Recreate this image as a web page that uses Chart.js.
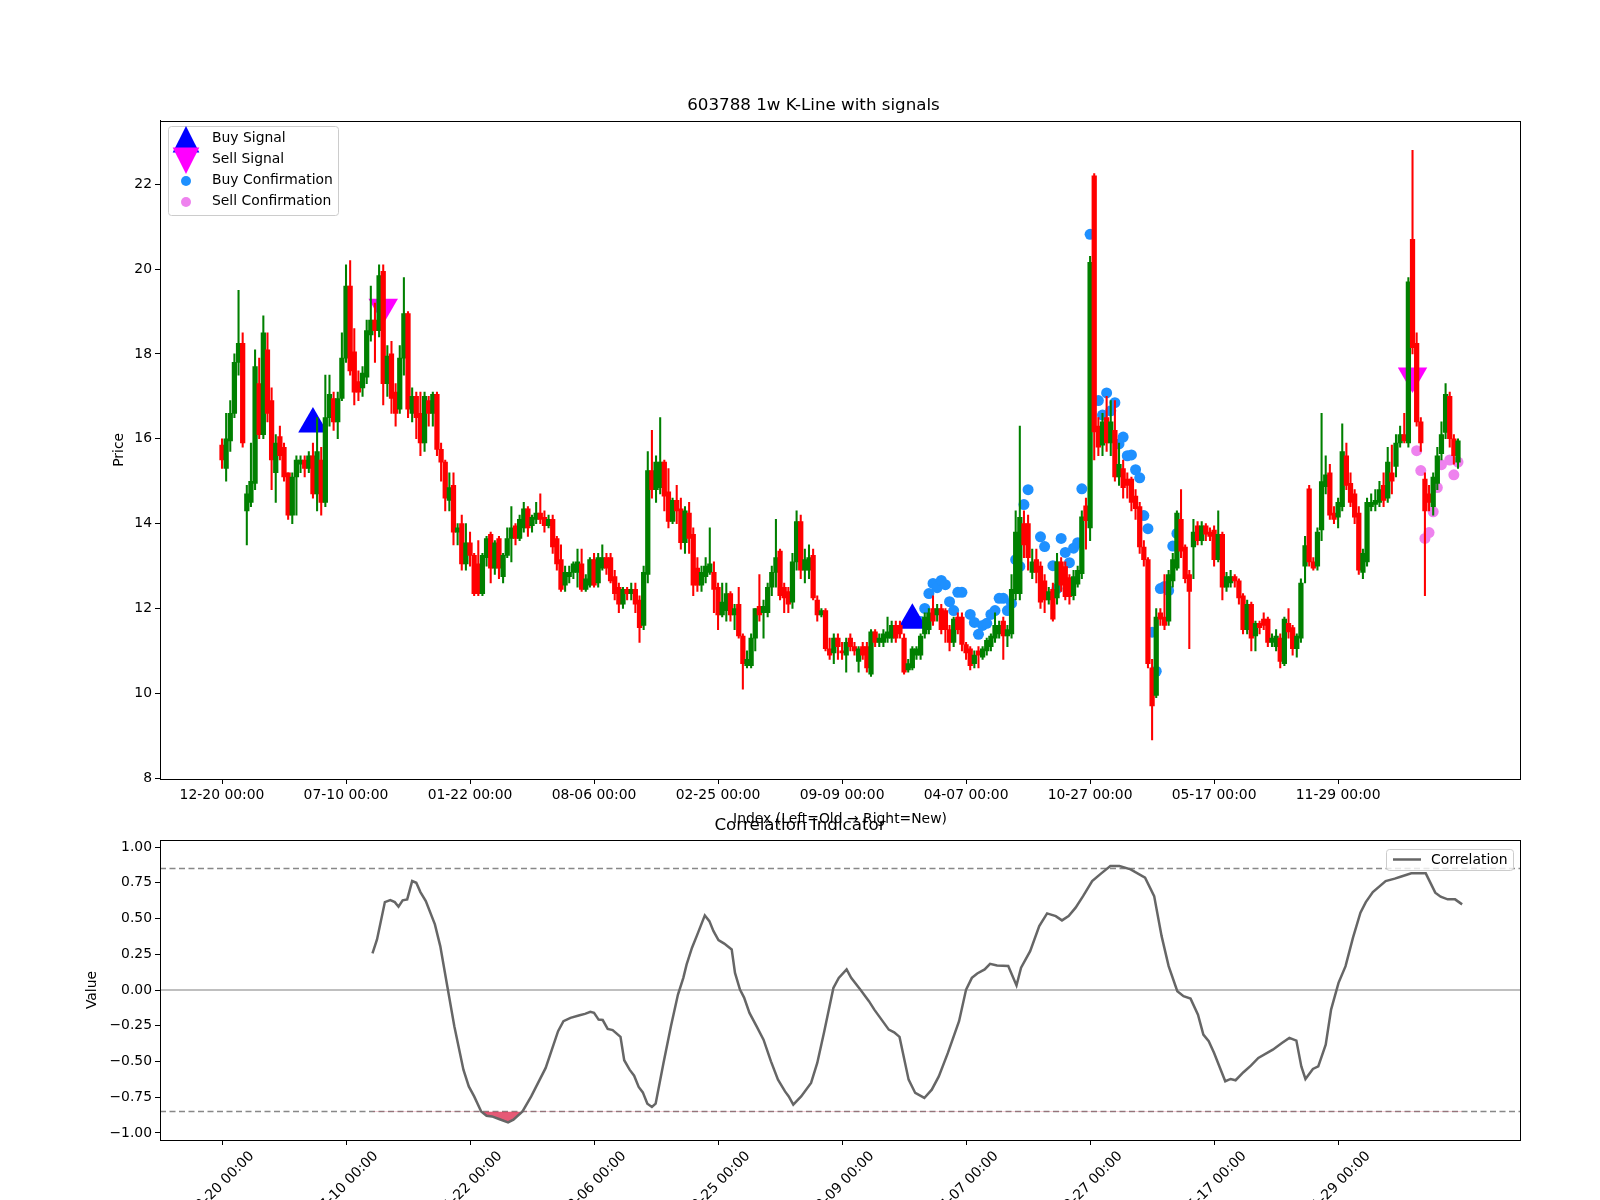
<!DOCTYPE html>
<html><head><meta charset="utf-8">
<script src="https://cdn.jsdelivr.net/npm/chart.js@4.4.1/dist/chart.umd.min.js"></script>
<style>
html,body{margin:0;padding:0;background:#fff;width:1600px;height:1200px;overflow:hidden}
#c1{position:absolute;left:0;top:0}
#c2{position:absolute;left:0;top:800px}
</style></head><body>
<canvas id="c1" width="1600" height="830"></canvas>
<canvas id="c2" width="1600" height="400"></canvas>
<script>
// ---------- DATA ----------
const tickIdx = [0,30,60,90,120,150,180,210,240,270];
const dateLabels = ["12-20 00:00","07-10 00:00","01-22 00:00","08-06 00:00","02-25 00:00","09-09 00:00","04-07 00:00","10-27 00:00","05-17 00:00","11-29 00:00"];
const priceTicks = [8,10,12,14,16,18,20,22];
const corrTicks = [-1,-0.75,-0.5,-0.25,0,0.25,0.5,0.75,1];

const opens = [
15.85,15.3,15.95,16.6,17.8,18.25,14.3,14.5,14.95,17.3,16.1,18.1,16.9,15.2,16.05,15.8,15.2,14.2,15.1,15.4,15.5,15.3,15.6,14.7,15.5,14.5,16.5,16.95,16.4,16.95,17.9,19.6,18.05,17.35,17.2,17.45,18.45,18.8,18.55,19.95,17.3,18.0,17.1,16.7,17.9,18.95,16.6,17.0,
16.6,15.9,16.9,16.6,17.05,15.75,15.45,14.55,14.9,13.8,14.0,13.05,13.55,13.25,13.05,12.35,13.2,13.75,12.95,13.65,12.75,13.25,13.65,13.95,13.65,13.9,14.35,13.95,14.1,14.25,14.15,13.95,14.1,13.65,13.15,12.55,12.75,12.85,12.85,13.05,12.45,12.55,13.15,12.6,12.95,13.2,13.2,12.75,12.5,12.1,12.45,12.35,
12.45,12.2,11.6,12.8,15.25,14.8,14.85,15.45,14.75,14.05,14.55,14.35,13.55,14.25,13.75,12.95,12.55,12.75,12.85,12.85,12.5,11.85,11.95,12.35,11.85,12.1,11.35,10.65,10.65,11.3,12.05,11.9,11.9,12.5,12.85,13.35,12.5,12.4,12.15,13.1,14.05,12.9,12.9,13.25,12.2,11.85,11.95,11.05,10.95,11.3,11.0,10.9,
11.3,11.1,10.75,11.1,11.1,10.45,11.45,11.2,11.2,11.3,11.3,11.6,11.6,11.3,10.55,10.6,10.9,10.9,11.4,11.5,12.0,11.85,12.0,11.95,11.5,11.2,11.8,11.8,11.15,11.05,10.7,11.0,10.85,11.0,11.1,11.3,11.4,11.7,11.35,11.4,12.35,12.35,14.0,14.0,12.85,13.15,13.0,12.65,12.2,12.45,12.25,13.1,
12.99,12.73,12.3,12.57,12.82,14.42,13.9,22.2,16.3,15.85,16.5,15.9,16.2,15.1,15.3,15.05,15.05,14.65,14.4,13.45,13.15,10.6,9.95,11.9,11.8,11.7,12.65,12.95,14.1,13.45,12.8,13.45,13.95,13.6,13.95,13.8,13.85,13.15,13.75,12.5,12.6,12.75,12.65,12.3,11.5,12.1,11.35,11.65,11.75,11.75,11.2,
11.1,11.3,10.7,11.65,11.55,11.05,11.3,13.0,
14.82,13.1,13.0,13.85,14.87,15.2,14.25,14.15,14.4,15.6,14.95,14.7,14.25,12.85,13.1,14.4,14.45,14.5,14.9,14.6,15.2,15.35,15.9,16.1,15.9,20.7,18.25,16.4,15.05,14.7,14.4,14.95,15.65,16.15,
17.0,16.0,15.45];
const closes = [
15.5,16.0,16.6,17.8,18.25,15.9,14.7,15.0,17.7,16.1,18.5,16.6,15.5,15.9,15.6,15.1,14.2,15.1,15.5,15.5,15.3,15.6,14.7,15.7,14.5,16.5,17.05,16.4,16.95,17.9,19.6,17.6,17.1,17.1,17.55,18.55,18.8,18.55,19.85,17.3,17.95,16.95,16.6,17.9,18.95,16.7,17.0,16.5,
15.9,17.0,16.6,17.05,15.75,15.45,14.6,14.85,13.8,13.9,13.05,13.55,13.25,12.35,12.35,13.25,13.65,12.95,13.55,12.95,13.25,13.65,13.9,13.65,14.1,14.35,13.9,14.15,14.25,14.1,13.95,14.1,13.45,13.05,12.45,12.85,12.85,13.05,13.1,12.45,12.7,13.15,12.55,13.2,13.2,12.95,12.65,12.35,12.1,12.45,12.35,12.45,
12.1,11.55,12.85,15.25,14.8,15.45,15.45,14.65,14.05,14.55,14.3,13.55,14.3,13.65,12.55,12.55,12.85,13.0,13.05,12.45,11.85,12.15,12.35,11.85,12.0,11.35,10.7,10.8,11.3,12.0,11.85,12.05,12.5,12.85,13.2,12.3,12.25,12.1,13.1,14.05,12.9,13.15,13.2,12.25,11.85,11.95,11.05,10.9,11.3,11.1,10.95,11.2,
11.1,11.0,11.05,10.9,10.6,11.45,11.2,11.3,11.4,11.45,11.6,11.3,11.4,10.5,10.7,11.05,11.05,11.35,11.8,11.9,11.7,12.0,11.5,11.5,11.2,11.75,11.5,11.15,10.95,10.65,10.9,10.9,11.05,11.25,11.35,11.6,11.6,11.35,11.5,12.45,13.8,14.15,13.5,13.2,13.1,12.85,12.15,12.2,12.4,11.75,13.1,12.55,
12.28,12.28,12.75,12.9,14.16,14.07,20.16,16.16,15.8,16.4,15.9,16.4,15.1,15.4,14.85,14.9,14.5,14.35,13.45,13.15,10.7,9.7,11.8,11.75,11.6,12.8,13.15,14.25,13.35,12.7,12.4,13.8,13.6,13.95,13.75,13.7,13.15,13.75,12.5,12.75,12.75,12.65,12.25,11.5,12.1,11.3,11.65,11.55,11.6,11.2,11.3,
11.35,10.75,11.75,11.45,11.05,11.35,12.6,13.48,
13.1,12.95,13.8,14.99,15.15,14.2,14.1,14.5,15.7,14.9,14.5,14.15,12.9,13.3,14.5,14.5,14.55,14.8,14.55,15.45,15.0,15.9,16.1,15.95,19.7,18.15,16.4,15.9,14.3,14.5,15.1,15.6,16.1,17.05,
16.0,15.6,15.95];
const highs = [
16.0,16.6,16.9,18.0,19.5,18.5,14.9,15.9,18.1,17.9,18.9,18.5,17.2,16.1,16.3,15.9,15.2,15.2,15.6,15.6,15.6,15.7,15.9,16.5,15.8,17.5,17.5,17.1,17.1,18.5,20.1,20.2,18.6,17.6,17.7,18.8,19.6,19.2,20.1,20.1,18.2,18.3,17.3,18.2,19.8,19.0,17.2,17.1,
17.1,17.1,17.0,17.1,17.1,15.9,15.5,15.2,15.2,14.0,14.2,14.0,13.8,13.3,13.6,13.3,13.7,13.8,13.6,13.7,13.3,13.9,14.4,14.0,14.2,14.5,14.4,14.2,14.5,14.7,14.3,14.2,14.2,13.7,13.5,13.0,13.0,13.1,13.4,13.4,12.8,13.2,13.3,13.3,13.5,13.3,13.3,12.9,12.6,12.5,12.5,12.6,
12.6,12.3,13.0,15.7,16.2,15.6,16.5,15.5,15.3,14.6,14.9,14.6,14.4,14.5,13.9,13.2,13.0,13.2,13.9,13.1,12.6,12.6,12.6,12.4,12.1,12.5,11.4,11.0,11.4,12.0,12.8,12.2,12.6,13.0,14.1,13.4,12.6,12.5,13.3,14.3,14.2,13.4,13.5,13.4,12.3,12.0,12.0,11.3,11.4,11.4,11.2,11.3,
11.4,11.2,11.1,11.2,11.2,11.5,11.5,11.4,11.5,11.8,11.7,11.7,11.7,11.4,10.8,11.1,11.1,11.4,11.9,12.0,12.3,12.1,12.1,12.0,11.6,11.8,11.9,11.9,11.2,11.1,11.0,11.1,11.1,11.3,11.4,11.9,11.7,11.8,11.6,12.8,14.3,16.3,14.3,14.2,13.4,13.4,13.1,12.8,12.5,12.6,13.3,13.2,
13.1,12.8,12.9,13.0,14.3,14.6,20.3,22.25,16.5,16.6,17.0,16.9,16.9,15.9,15.5,15.2,15.1,14.8,14.5,13.6,13.2,10.8,12.0,12.0,12.8,12.9,13.3,14.3,14.8,13.5,12.9,14.1,14.05,14.05,14.0,13.9,13.95,14.3,13.8,12.85,12.9,12.8,12.7,12.35,12.2,12.15,11.7,11.7,11.9,11.8,11.4,
11.5,11.4,11.8,12.0,11.6,11.4,12.7,13.7,
14.9,13.2,13.9,16.6,15.6,15.4,14.4,14.6,16.35,15.9,15.2,14.8,14.4,13.4,14.6,14.7,14.8,15.0,15.2,15.8,15.85,16.1,16.3,16.6,19.8,22.8,18.5,16.5,15.2,14.9,15.2,15.8,16.4,17.3,
17.1,16.1,16.0];
const lows = [
15.3,15.0,15.7,16.5,17.5,15.8,13.5,14.4,14.8,16.0,16.0,16.4,14.8,14.5,15.5,15.0,14.1,14.0,14.2,15.2,15.1,15.2,14.6,14.3,14.2,14.4,16.3,16.2,16.0,16.9,17.8,17.5,16.8,16.9,17.0,17.3,18.3,17.8,18.4,16.8,17.0,16.6,16.3,16.6,17.5,16.5,16.4,16.0,
15.6,15.7,16.3,16.3,15.6,15.0,14.3,14.3,13.5,13.5,12.9,12.9,13.0,12.3,12.3,12.3,13.0,12.6,12.8,12.7,12.6,13.2,13.1,13.5,13.6,13.8,13.7,13.8,14.0,14.0,13.8,13.9,13.3,12.9,12.4,12.4,12.6,12.7,12.5,12.4,12.4,12.5,12.5,12.5,12.9,12.8,12.6,12.2,11.9,12.0,12.2,12.2,
11.9,11.2,11.5,12.6,14.6,14.5,14.7,14.3,13.9,14.0,14.0,13.4,13.3,13.3,12.3,12.4,12.4,12.6,12.8,11.9,11.5,11.8,11.7,11.7,11.5,11.3,10.1,10.6,10.6,11.0,11.7,11.3,11.8,12.3,12.5,12.2,11.9,11.9,12.0,12.9,12.7,12.6,12.7,12.2,11.7,11.8,11.0,10.8,10.7,10.8,10.8,10.5,
11.0,10.9,10.5,10.8,10.5,10.4,11.1,11.1,11.1,11.2,11.2,11.2,11.3,10.45,10.5,10.55,10.8,10.8,11.3,11.4,11.6,11.7,11.4,11.2,11.0,11.1,11.4,11.0,10.8,10.55,10.6,10.6,10.8,10.9,11.0,11.2,11.3,10.8,11.1,11.3,12.2,12.2,13.2,12.9,12.7,12.6,12.0,11.9,12.1,11.7,12.1,12.4,
12.2,12.1,12.2,12.5,12.7,13.4,13.6,15.5,15.6,15.6,15.7,15.6,15.0,14.9,14.6,14.6,14.3,14.1,13.3,13.0,10.6,8.9,9.9,11.6,11.5,11.6,12.5,12.9,13.2,12.6,11.05,12.7,13.5,13.5,13.6,13.6,13.0,13.1,12.2,12.4,12.5,12.5,12.1,11.4,11.4,11.0,11.0,11.4,11.5,11.1,11.1,
11.0,10.6,10.65,11.3,10.9,10.85,11.2,12.6,
13.0,12.9,12.9,13.6,14.7,14.1,14.0,13.9,14.3,14.8,14.4,14.0,12.8,12.7,13.0,14.3,14.3,14.4,14.4,14.5,14.7,15.1,15.8,15.9,15.8,18.0,16.3,15.7,12.3,14.3,14.2,14.8,15.5,16.0,
15.8,15.4,15.3];

const buySignalIdx = [22,167];
const buySignalPrice = [16.35,11.72];
const sellSignalIdx = [39,288];
const sellSignalPrice = [19.1,17.48];

const buyConfIdx = [169,170,171,172,173,174,175,176,177,178,179,181,182,183,184,185,186,187,188,189,190,191,192,193,194,195,198,199,201,202,203,204,205,206,207,208,210,212,213,214,215,216,217,218,219,220,221,222,223,224,225,226,227,228,229,230,231];
const buyConfPrice = [11.69,12.0,12.35,12.59,12.49,12.66,12.56,12.16,11.95,12.38,12.38,11.86,11.67,11.39,11.6,11.65,11.86,11.95,12.24,12.24,11.95,12.12,13.15,12.99,14.45,14.8,13.69,13.46,13.01,12.47,13.65,13.32,13.08,13.42,13.55,14.82,20.82,16.9,16.56,17.08,16.66,16.85,15.88,16.04,15.6,15.62,15.27,15.08,14.19,13.88,11.44,10.52,12.47,12.52,12.42,13.47,13.77];
const sellConfIdx = [289,290,291,292,293,294,295,297,298,299];
const sellConfPrice = [15.72,15.25,13.65,13.79,14.28,14.85,15.39,15.5,15.15,15.45];

const corrIdx = [36.4,37.5,39.4,40.7,41.8,42.7,43.7,44.8,46,47,48,49.3,51.5,52.8,54.5,56.2,58.4,59.7,61,62.7,64,65.3,67,69.2,70.5,72.7,74.8,78.3,81.3,82.6,84.3,86.5,87.8,89.1,90,91.1,92.1,93.3,94.5,96.4,97.3,98.6,99.7,100.8,101.8,102.9,104,104.9,106.8,108.6,110.3,111.6,112.4,113.7,115,116.8,117.9,118.9,120.1,121.5,123.3,124.1,125.3,126.3,127.6,129.3,131,132.8,134.5,136.2,137.1,138.2,140.1,142.5,144,145.7,147.9,149.2,151.1,152.2,154.4,156.5,157.8,161.3,162.6,163.9,166.1,167.7,169.9,171.7,173.4,175.6,178.3,180,181.4,182.7,184.5,185.8,187.5,190.2,192.2,193.3,195.5,197.7,199.6,201.7,203.2,204.8,206.5,208.3,210.5,212.7,214.9,217.1,219.8,223.3,225.5,227.3,229,231.1,232.6,234.3,236.1,237.4,238.7,240,242.7,244,245.2,247.1,248.9,250.7,254.2,256.4,258.2,259.9,261.1,262.1,263.9,265.2,267,268.3,270.1,271.8,273.6,275.4,276.7,278.4,281.5,283.7,285.1,287.7,291.2,293.5,294.8,296.5,298.3,300];
const corrVal = [0.256,0.354,0.615,0.629,0.615,0.583,0.627,0.634,0.762,0.75,0.685,0.622,0.459,0.307,0.027,-0.253,-0.557,-0.674,-0.744,-0.849,-0.879,-0.884,-0.902,-0.926,-0.907,-0.849,-0.744,-0.545,-0.288,-0.218,-0.195,-0.176,-0.167,-0.153,-0.16,-0.207,-0.21,-0.272,-0.28,-0.328,-0.491,-0.557,-0.599,-0.678,-0.716,-0.795,-0.818,-0.795,-0.51,-0.253,-0.032,0.085,0.179,0.296,0.389,0.522,0.482,0.412,0.349,0.325,0.284,0.12,0.003,-0.053,-0.16,-0.253,-0.347,-0.499,-0.627,-0.709,-0.744,-0.802,-0.744,-0.65,-0.51,-0.288,0.015,0.085,0.144,0.085,0.003,-0.078,-0.137,-0.277,-0.296,-0.328,-0.627,-0.72,-0.755,-0.697,-0.604,-0.44,-0.218,0.003,0.085,0.116,0.144,0.183,0.172,0.168,0.032,0.156,0.272,0.447,0.536,0.517,0.487,0.517,0.576,0.657,0.762,0.816,0.867,0.867,0.844,0.786,0.657,0.377,0.167,-0.008,-0.043,-0.06,-0.172,-0.312,-0.358,-0.44,-0.638,-0.622,-0.631,-0.575,-0.529,-0.475,-0.417,-0.37,-0.335,-0.354,-0.534,-0.622,-0.552,-0.534,-0.382,-0.137,0.05,0.167,0.366,0.541,0.615,0.685,0.762,0.779,0.792,0.816,0.816,0.681,0.653,0.634,0.634,0.599];
const corrBands = [0.85,-0.85];

// ---------- STYLE / HELPERS ----------
const FONT = "'DejaVu Sans', sans-serif";
Chart.defaults.font.family = FONT;
Chart.defaults.color = '#000';
const XMIN = -15, XMAX = 314;
const up = i => closes[i] >= opens[i];
const candleColor = ctx => up(ctx.dataIndex) ? '#008000' : '#ff0000';

const framePlugin = {
  id:'frame',
  afterDraw(chart){
    const a = chart.chartArea, c = chart.ctx;
    c.save(); c.strokeStyle='#000'; c.lineWidth=1;
    c.strokeRect(Math.round(a.left)+0.5, Math.round(a.top)+0.5, Math.round(a.right-a.left), Math.round(a.bottom-a.top));
    c.restore();
  }
};

function tri(c, x, y, r, down, color){
  c.beginPath();
  if(!down){ c.moveTo(x, y-r); c.lineTo(x-r*0.95, y+r*0.9); c.lineTo(x+r*0.95, y+r*0.9); }
  else { c.moveTo(x, y+r); c.lineTo(x-r*0.95, y-r*0.9); c.lineTo(x+r*0.95, y-r*0.9); }
  c.closePath(); c.fillStyle=color; c.fill();
}

const legendTop = {
  id:'legendTop',
  afterDraw(chart){
    const c = chart.ctx;
    c.save();
    c.fillStyle='rgba(255,255,255,0.8)'; c.strokeStyle='#cccccc'; c.lineWidth=1;
    c.beginPath(); c.roundRect(168.5,126.5,170,89,3); c.fill(); c.stroke();
    tri(c,186,140,14,false,'#0000ff');
    tri(c,186,160,14,true,'#ff00ff');
    c.fillStyle='#1e90ff'; c.beginPath(); c.arc(186,181,5,0,Math.PI*2); c.fill();
    c.fillStyle='#ee82ee'; c.beginPath(); c.arc(186,202,5,0,Math.PI*2); c.fill();
    c.fillStyle='#000'; c.font="13.9px "+FONT; c.textBaseline='middle';
    c.fillText('Buy Signal',212,138); c.fillText('Sell Signal',212,159);
    c.fillText('Buy Confirmation',212,180); c.fillText('Sell Confirmation',212,201);
    c.restore();
  }
};
const legendBottom = {
  id:'legendBottom',
  afterDraw(chart){
    const c = chart.ctx;
    c.save();
    c.fillStyle='rgba(255,255,255,0.8)'; c.strokeStyle='#cccccc'; c.lineWidth=1;
    c.beginPath(); c.roundRect(1386.5,49.5,127,21,3); c.fill(); c.stroke();
    c.strokeStyle='#666'; c.lineWidth=2.5; c.beginPath(); c.moveTo(1393,59.5); c.lineTo(1421,59.5); c.stroke();
    c.fillStyle='#000'; c.font="13.9px "+FONT; c.textBaseline='middle';
    c.fillText('Correlation',1431,60);
    c.restore();
  }
};

function xAxis(rot){
  return {
    type:'linear', min:XMIN, max:XMAX, offset:false,
    afterBuildTicks: s => { s.ticks = tickIdx.map(v=>({value:v})); },
    ticks:{ autoSkip:false, maxRotation:rot, minRotation:rot, labelOffset: rot?30:0, padding:3,
      font:{size:13.9}, callback: v => dateLabels[tickIdx.indexOf(v)] ?? '' },
    grid:{ drawOnChartArea:false, drawTicks:true, tickLength:5, color:'#000', offset:false },
    border:{ display:true, color:'#000' }
  };
}

// ---------- TOP CHART ----------
const idx = opens.map((_,i)=>i);
new Chart(document.getElementById('c1'), {
  type:'bar',
  data:{ datasets:[
    { label:'wick', data: idx.map(i=>({x:i, y:[lows[i], highs[i]]})), backgroundColor:candleColor, barThickness:1.4, grouped:false, order:1 },
    { label:'body', data: idx.map(i=>({x:i, y:[opens[i], closes[i]]})), backgroundColor:candleColor, barThickness:4.6, grouped:false, minBarLength:1, order:0 },
    { type:'scatter', label:'Buy Confirmation', data: buyConfIdx.map((v,k)=>({x:v, y:buyConfPrice[k]})), backgroundColor:'#1e90ff', borderWidth:0, pointRadius:5.5, order:4 },
    { type:'scatter', label:'Sell Confirmation', data: sellConfIdx.map((v,k)=>({x:v, y:sellConfPrice[k]})), backgroundColor:'#ee82ee', borderWidth:0, pointRadius:5.5, order:4 },
    { type:'scatter', label:'Buy Signal', data: buySignalIdx.map((v,k)=>({x:v, y:buySignalPrice[k]})), backgroundColor:'#0000ff', borderWidth:0, pointStyle:'triangle', pointRadius:17, order:3 },
    { type:'scatter', label:'Sell Signal', data: sellSignalIdx.map((v,k)=>({x:v, y:sellSignalPrice[k]})), backgroundColor:'#ff00ff', borderWidth:0, pointStyle:'triangle', rotation:180, pointRadius:17, order:3 }
  ]},
  options:{
    responsive:false, animation:false, devicePixelRatio:1,
    layout:{ padding:{ left:107, right:80, top:0, bottom:0 } },
    plugins:{ legend:{display:false}, tooltip:{enabled:false},
      title:{ display:true, text:'603788 1w K-Line with signals', font:{size:16.7, weight:'normal'}, padding:{top:96,bottom:4.6} } },
    scales:{
      x: Object.assign(xAxis(0), {
        afterFit: s => { s.height = 51; },
        title:{ display:true, text:'Index (Left=Old → Right=New)', font:{size:13.9}, padding:{top:0,bottom:2} }
      }),
      y:{ type:'linear', min:7.98, max:23.5,
        afterBuildTicks: s => { s.ticks = priceTicks.map(v=>({value:v})); },
        afterFit: s => { s.width = 53; },
        ticks:{ font:{size:13.9}, padding:3 },
        grid:{ drawOnChartArea:false, drawTicks:true, tickLength:5, color:'#000' },
        border:{ display:true, color:'#000' },
        title:{ display:true, text:'Price', font:{size:13.9}, padding:{top:4,bottom:0} } }
    }
  },
  plugins:[framePlugin, legendTop]
});

// ---------- BOTTOM CHART ----------
new Chart(document.getElementById('c2'), {
  type:'line',
  data:{ datasets:[
    { label:'band+', data:[{x:XMIN,y:corrBands[0]},{x:XMAX,y:corrBands[0]}], borderColor:'#888', borderWidth:1.5, borderDash:[6,3.5], pointRadius:0, order:3 },
    { label:'band-', data:[{x:XMIN,y:corrBands[1]},{x:XMAX,y:corrBands[1]}], borderColor:'#888', borderWidth:1.5, borderDash:[6,3.5], pointRadius:0, order:3 },
    { label:'zero', data:[{x:XMIN,y:0},{x:XMAX,y:0}], borderColor:'#aaaaaa', borderWidth:1.5, pointRadius:0, order:3 },
    { label:'Correlation', data: corrIdx.map((v,k)=>({x:v, y:corrVal[k]})), borderColor:'#666666', borderWidth:2.5, pointRadius:0, tension:0,
      fill:{ target:{value:-0.85}, above:'rgba(0,0,0,0)', below:'rgba(220,20,60,0.7)' }, order:0 }
  ]},
  options:{
    responsive:false, animation:false, devicePixelRatio:1,
    layout:{ padding:{ left:80, right:80, top:0, bottom:0 } },
    plugins:{ legend:{display:false}, tooltip:{enabled:false},
      title:{ display:true, text:'Correlation Indicator', font:{size:16.7, weight:'normal'}, padding:{top:16,bottom:4} } },
    scales:{
      x: Object.assign(xAxis(45), { afterFit: s => { s.height = 60; } }),
      y:{ type:'linear', min:-1.049, max:1.049,
        afterBuildTicks: s => { s.ticks = corrTicks.map(v=>({value:v})); },
        afterFit: s => { s.width = 80; },
        ticks:{ font:{size:13.9}, padding:3, callback: v => v.toFixed(2).replace('-', '\u2212') },
        grid:{ drawOnChartArea:false, drawTicks:true, tickLength:5, color:'#000' },
        border:{ display:true, color:'#000' },
        title:{ display:true, text:'Value', font:{size:13.9}, padding:{top:4,bottom:0} } }
    }
  },
  plugins:[framePlugin, legendBottom]
});
</script>
</body></html>
